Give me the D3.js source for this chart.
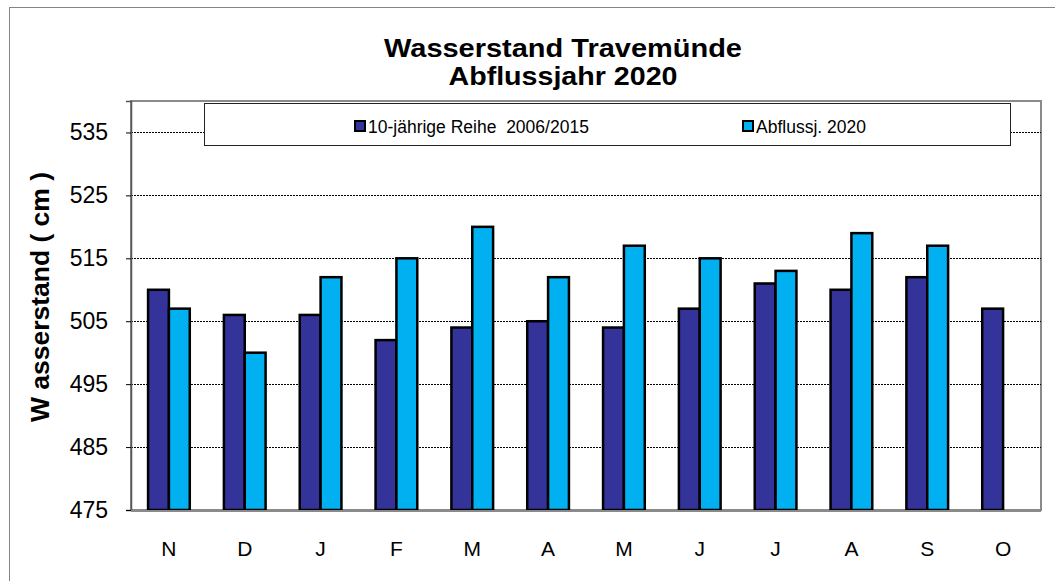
<!DOCTYPE html>
<html>
<head>
<meta charset="utf-8">
<script src="https://cdn.jsdelivr.net/npm/d3@7"></script>
<style>
  body { margin: 0; background: #fff; }
  text { font-family: Arial, "Liberation Sans", sans-serif; }
</style>
</head>
<body>
<div id="chart"></div>
<script>
// data
const months = ["N", "D", "J", "F", "M", "A", "M", "J", "J", "A", "S", "O"];
const seriesNames = ["10-jährige Reihe  2006/2015", "Abflussj. 2020"];
const reihe = [510, 506, 506, 502, 504, 505, 504, 507, 511, 510, 512, 507];
const abfluss = [507, 500, 512, 515, 520, 512, 517, 515, 513, 519, 517, null];
const yTicks = [475, 485, 495, 505, 515, 525, 535];
const titleLines = ["Wasserstand Travemünde", "Abflussjahr 2020"];
const yLabel = "W asserstand ( cm )";

const colors = ["#333399", "#00b0f0"];

const size = {width: 1055, height: 581};
const margin = {top: 101, right: 14, bottom: 71, left: 131};
const width = 1041 - margin.left;
const height = 510 - margin.top;

const svg = d3.select("#chart").append("svg")
    .attr("width", size.width)
    .attr("height", size.height);

// outer chart frame
svg.append("rect")
    .attr("x", 9.5).attr("y", 7.5)
    .attr("width", 1060).attr("height", 600)
    .attr("fill", "#fff")
    .attr("stroke", "#858585")
    .attr("stroke-width", 1);

// title
svg.selectAll(".title")
    .data(titleLines)
    .join("text")
    .attr("class", "title")
    .attr("x", 563)
    .attr("y", (d, i) => 57 + i * 28)
    .attr("text-anchor", "middle")
    .attr("font-size", 25)
    .attr("font-weight", "bold")
    .attr("textLength", (d, i) => i === 0 ? 358 : 229)
    .attr("lengthAdjust", "spacingAndGlyphs")
    .text(d => d);

const g = svg.append("g")
    .attr("transform", "translate(" + margin.left + "," + margin.top + ")");

// scales
const x0 = d3.scaleBand()
    .domain(d3.range(months.length))
    .range([0, width])
    .paddingInner(0.45)
    .paddingOuter(0.225);

const x1 = d3.scaleBand()
    .domain([0, 1])
    .range([0, x0.bandwidth()]);

const y = d3.scaleLinear()
    .domain([475, 540])
    .range([height, 0]);

// plot area
g.append("rect")
    .attr("width", width).attr("height", height)
    .attr("fill", "#fff")
    .attr("stroke", "#8a8a8a")
    .attr("stroke-width", 2);

// dotted gridlines
g.selectAll(".grid")
    .data(yTicks.filter(t => t > 475))
    .join("line")
    .attr("class", "grid")
    .attr("x1", 0).attr("x2", width)
    .attr("y1", d => Math.round(y(d)) + 0.5)
    .attr("y2", d => Math.round(y(d)) + 0.5)
    .attr("stroke", "#000")
    .attr("stroke-width", 1)
    .attr("stroke-dasharray", "2,1");

// y axis
const yAxis = g.append("g")
    .call(d3.axisLeft(y).tickValues(yTicks).tickSize(5).tickPadding(18));
yAxis.select(".domain").attr("stroke", "#555").attr("stroke-width", 1.5);
yAxis.selectAll(".tick line").attr("stroke", "#000");
yAxis.selectAll(".tick text")
    .attr("font-size", 23)
    .attr("fill", "#000")
    .attr("font-family", "Arial, 'Liberation Sans', sans-serif");

// x axis labels
const xAxis = g.append("g")
    .attr("transform", "translate(0," + height + ")")
    .call(d3.axisBottom(x0).tickFormat(i => months[i]).tickSize(0).tickPadding(31));
xAxis.select(".domain").remove();
xAxis.selectAll(".tick text")
    .attr("font-size", 21)
    .attr("fill", "#000")
    .attr("font-family", "Arial, 'Liberation Sans', sans-serif");

// bars
const series = [reihe, abfluss];
const barG = g.selectAll(".month")
    .data(d3.range(months.length))
    .join("g")
    .attr("class", "month")
    .attr("transform", i => "translate(" + x0(i) + ",0)");

barG.selectAll("rect")
    .data(i => series.map((s, k) => ({k: k, v: s[i]})).filter(d => d.v != null))
    .join("rect")
    .attr("x", d => x1(d.k))
    .attr("width", x1.bandwidth())
    .attr("y", d => y(d.v))
    .attr("height", d => height - y(d.v))
    .attr("fill", d => colors[d.k])
    .attr("stroke", "#000")
    .attr("stroke-width", 2.5);

// plot border bottom redrawn over bars
g.append("line")
    .attr("x1", 0).attr("x2", width)
    .attr("y1", height + 1).attr("y2", height + 1)
    .attr("stroke", "#8a8a8a").attr("stroke-width", 2);

// legend
const legend = svg.append("g");
legend.append("rect")
    .attr("x", 204.5).attr("y", 103.5)
    .attr("width", 806).attr("height", 42)
    .attr("fill", "#fff")
    .attr("stroke", "#222")
    .attr("stroke-width", 1);

const legendX = [354, 742];
const item = legend.selectAll(".item")
    .data(seriesNames)
    .join("g")
    .attr("class", "item")
    .attr("transform", (d, i) => "translate(" + legendX[i] + ",120)");
item.append("rect")
    .attr("x", 1).attr("y", 1)
    .attr("width", 10).attr("height", 10)
    .attr("fill", (d, i) => colors[i])
    .attr("stroke", "#000")
    .attr("stroke-width", 2);
item.append("text")
    .attr("x", 14).attr("y", 12.5)
    .attr("font-size", 17.5)
    .style("white-space", "pre")
    .text(d => d);

// y axis title
svg.append("text")
    .attr("transform", "translate(49,297) rotate(-90)")
    .attr("text-anchor", "middle")
    .attr("font-size", 25)
    .attr("font-weight", "bold")
    .attr("textLength", 250)
    .attr("lengthAdjust", "spacingAndGlyphs")
    .style("white-space", "pre")
    .text(yLabel);
</script>
</body>
</html>
